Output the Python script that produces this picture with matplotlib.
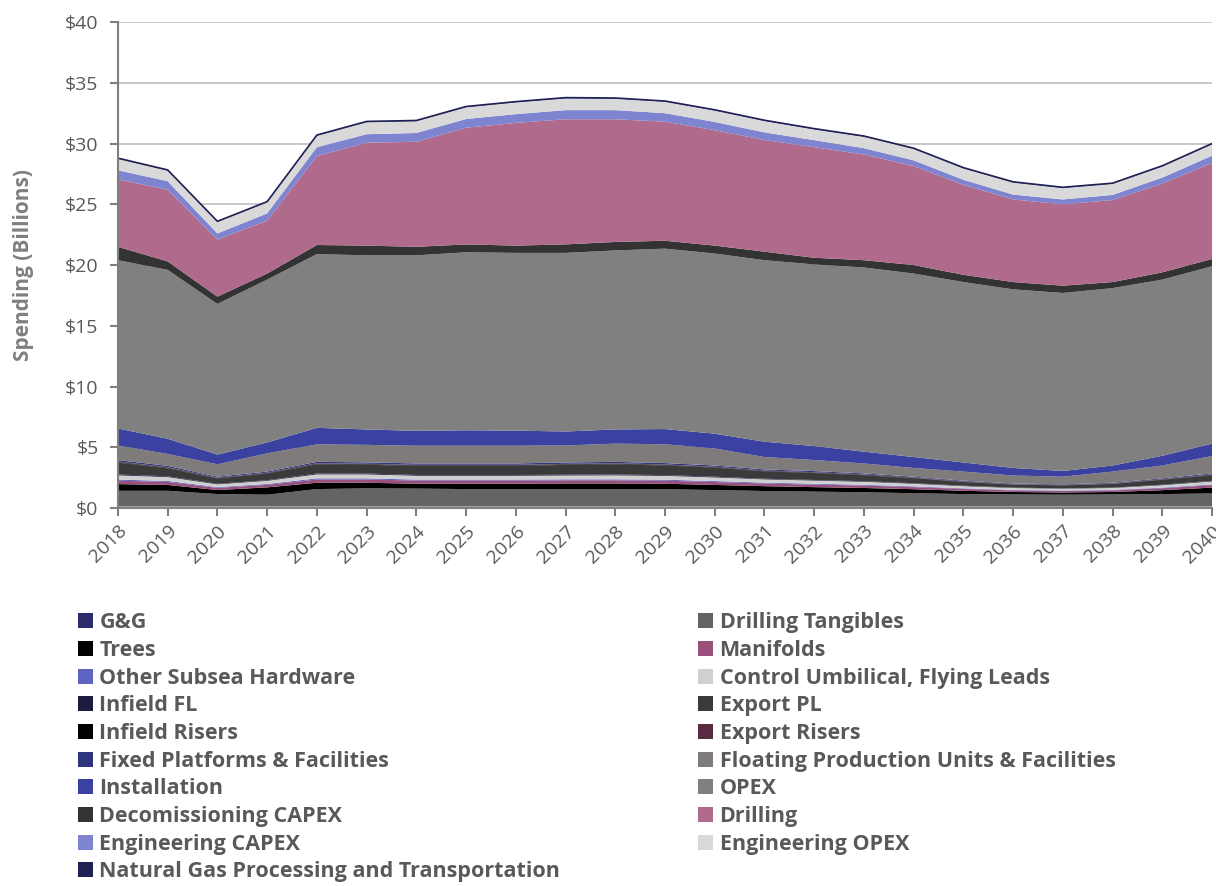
import numpy as np
import matplotlib
matplotlib.use("Agg")
import matplotlib.pyplot as plt
from matplotlib.patches import Patch

plt.rcParams['font.family'] = ['Open Sans', 'DejaVu Sans']

years = list(range(2018, 2041))

gg = [0.12, 0.12, 0.12, 0.12, 0.12, 0.12, 0.12, 0.12, 0.12, 0.12, 0.12, 0.12,
      0.12, 0.12, 0.12, 0.12, 0.12, 0.12, 0.12, 0.12, 0.12, 0.12, 0.12]
drilling_tangibles = [1.3, 1.3, 1.03, 0.98, 1.44, 1.5, 1.48, 1.44, 1.44, 1.44, 1.44, 1.43,
                      1.36, 1.28, 1.23, 1.18, 1.1, 1.03, 1.0, 0.98, 1.0, 1.03, 1.08]
trees = [0.55, 0.48, 0.33, 0.6, 0.52, 0.46, 0.4, 0.44, 0.44, 0.46, 0.46, 0.45,
         0.42, 0.4, 0.37, 0.35, 0.33, 0.27, 0.2, 0.18, 0.2, 0.32, 0.48]
manifolds = [0.28, 0.25, 0.18, 0.21, 0.27, 0.27, 0.26, 0.26, 0.26, 0.26, 0.26, 0.25,
             0.24, 0.22, 0.21, 0.2, 0.17, 0.15, 0.13, 0.12, 0.13, 0.16, 0.2]
other_subsea = [0.09, 0.08, 0.06, 0.07, 0.09, 0.09, 0.08, 0.08, 0.08, 0.08, 0.08, 0.08,
                0.08, 0.07, 0.07, 0.06, 0.06, 0.05, 0.04, 0.04, 0.04, 0.05, 0.06]
control_umbilical = [0.35, 0.32, 0.23, 0.26, 0.33, 0.33, 0.32, 0.32, 0.32, 0.32, 0.33, 0.32,
                     0.3, 0.27, 0.26, 0.25, 0.22, 0.18, 0.16, 0.15, 0.16, 0.2, 0.25]
infield_fl = [0.07, 0.06, 0.05, 0.05, 0.07, 0.07, 0.06, 0.06, 0.06, 0.06, 0.07, 0.06,
              0.06, 0.05, 0.05, 0.05, 0.04, 0.04, 0.03, 0.03, 0.03, 0.04, 0.05]
export_pl = [0.98, 0.66, 0.44, 0.55, 0.76, 0.72, 0.75, 0.75, 0.75, 0.81, 0.84, 0.79,
             0.75, 0.61, 0.57, 0.49, 0.42, 0.3, 0.25, 0.24, 0.3, 0.4, 0.46]
infield_risers = [0.05, 0.05, 0.03, 0.04, 0.05, 0.05, 0.05, 0.05, 0.05, 0.05, 0.05, 0.05,
                  0.04, 0.04, 0.04, 0.04, 0.03, 0.03, 0.02, 0.02, 0.02, 0.03, 0.04]
export_risers = [0.04, 0.04, 0.03, 0.03, 0.04, 0.04, 0.04, 0.04, 0.04, 0.04, 0.04, 0.04,
                 0.03, 0.03, 0.03, 0.03, 0.02, 0.02, 0.02, 0.02, 0.02, 0.02, 0.03]
fixed_platforms = [0.12, 0.11, 0.08, 0.09, 0.11, 0.11, 0.11, 0.11, 0.11, 0.11, 0.11, 0.11,
                   0.1, 0.09, 0.09, 0.08, 0.07, 0.06, 0.05, 0.05, 0.06, 0.07, 0.08]
floating_units = [1.2, 0.98, 1.02, 1.5, 1.44, 1.44, 1.46, 1.46, 1.46, 1.4, 1.5, 1.55,
                  1.4, 1.02, 0.91, 0.82, 0.72, 0.75, 0.66, 0.63, 0.92, 1.06, 1.43]
installation = [1.4, 1.25, 0.8, 0.9, 1.36, 1.27, 1.22, 1.27, 1.24, 1.15, 1.17, 1.25,
                1.22, 1.26, 1.15, 0.97, 0.9, 0.75, 0.62, 0.47, 0.5, 0.8, 1.02]
opex = [13.85, 13.9, 12.4, 13.4, 14.3, 14.33, 14.45, 14.65, 14.63, 14.7, 14.73, 14.85,
        14.83, 14.94, 14.95, 15.16, 15.1, 14.85, 14.7, 14.65, 14.6, 14.5, 14.6]
decom_capex = [1.1, 0.7, 0.6, 0.5, 0.75, 0.8, 0.7, 0.65, 0.6, 0.7, 0.7, 0.65,
               0.65, 0.7, 0.55, 0.6, 0.7, 0.6, 0.6, 0.6, 0.5, 0.6, 0.6]
drilling = [5.55, 5.9, 4.7, 4.35, 7.32, 8.47, 8.65, 9.6, 10.1, 10.3, 10.1, 9.8,
            9.5, 9.2, 9.1, 8.7, 8.15, 7.4, 6.8, 6.7, 6.75, 7.3, 7.9]
eng_capex = [0.75, 0.7, 0.5, 0.6, 0.73, 0.7, 0.72, 0.72, 0.72, 0.75, 0.75, 0.7,
             0.68, 0.62, 0.58, 0.52, 0.47, 0.42, 0.4, 0.4, 0.42, 0.5, 0.6]
eng_opex = [0.95, 0.88, 0.95, 0.92, 0.95, 1.0, 0.98, 0.98, 0.98, 0.98, 0.95, 0.95,
            0.95, 0.95, 0.9, 0.95, 0.95, 0.95, 1.0, 0.95, 0.92, 0.92, 0.95]
ngpt = [0.05, 0.05, 0.05, 0.05, 0.05, 0.05, 0.05, 0.05, 0.05, 0.05, 0.05, 0.05,
        0.05, 0.05, 0.05, 0.05, 0.05, 0.05, 0.05, 0.05, 0.05, 0.05, 0.05]

labels = ["G&G", "Drilling Tangibles", "Trees", "Manifolds", "Other Subsea Hardware",
          "Control Umbilical, Flying Leads", "Infield FL", "Export PL", "Infield Risers",
          "Export Risers", "Fixed Platforms & Facilities", "Floating Production Units & Facilities",
          "Installation", "OPEX", "Decomissioning CAPEX", "Drilling", "Engineering CAPEX",
          "Engineering OPEX", "Natural Gas Processing and Transportation"]
series = [gg, drilling_tangibles, trees, manifolds, other_subsea, control_umbilical,
          infield_fl, export_pl, infield_risers, export_risers, fixed_platforms,
          floating_units, installation, opex, decom_capex, drilling, eng_capex,
          eng_opex, ngpt]
colors = ["#2b2d6b", "#646464", "#000000", "#99507a", "#5f63c2", "#d0d0d0",
          "#1c1c42", "#3a3a3a", "#000000", "#5a2a40", "#2f3480", "#7f7b7b",
          "#3b41a0", "#808080", "#333333", "#b06b8c", "#7f84d0", "#d9d9d9",
          "#1f2155"]

fig = plt.figure(figsize=(12.16, 8.86), dpi=100)
ax = fig.add_axes([0.097, 0.4266, 0.8997, 0.5485])

ax.stackplot(years, np.array(series), colors=colors, linewidth=0)
# dark outline along the top
ax.plot(years, np.sum(series, axis=0), color="#1f2155", lw=1.2)

ax.set_xlim(2018, 2040)
ax.set_ylim(0, 40)
ax.set_yticks(range(0, 41, 5))
ax.set_yticklabels(["$%d" % v for v in range(0, 41, 5)])
ax.set_xticks(years)
ax.set_xticklabels([str(y) for y in years], rotation=45, ha="right", rotation_mode="anchor")
ax.yaxis.grid(True, color="#bfbfbf", lw=1.2)
ax.set_axisbelow(True)
for s in ["top", "right"]:
    ax.spines[s].set_visible(False)
for s in ["left", "bottom"]:
    ax.spines[s].set_color("#7f7f7f")
    ax.spines[s].set_linewidth(1.5)
ax.tick_params(axis="both", colors="#7f7f7f", labelcolor="#595959", labelsize=14,
               length=6, width=1.5)
ax.tick_params(axis="y", pad=8)
ax.tick_params(axis="x", pad=4)
ax.set_ylabel("Spending (Billions)", fontsize=15, fontweight="bold", color="#7f7f7f", labelpad=22)

handles = [Patch(facecolor=c, edgecolor="none") for c in colors]
left_idx = list(range(0, 19, 2))
right_idx = list(range(1, 19, 2))
for idx, xpos in [(left_idx, 0.064), (right_idx, 0.574)]:
    leg = fig.legend([handles[i] for i in idx], [labels[i] for i in idx],
                     loc="upper left", bbox_to_anchor=(xpos, 0.309), frameon=False,
                     prop={"size": 15.5, "weight": "bold"}, handlelength=0.7,
                     handleheight=0.7, handletextpad=0.3, labelspacing=0.31,
                     borderaxespad=0, borderpad=0)
    for t in leg.get_texts():
        t.set_color("#595959")

fig.savefig("out.png", dpi=100)
